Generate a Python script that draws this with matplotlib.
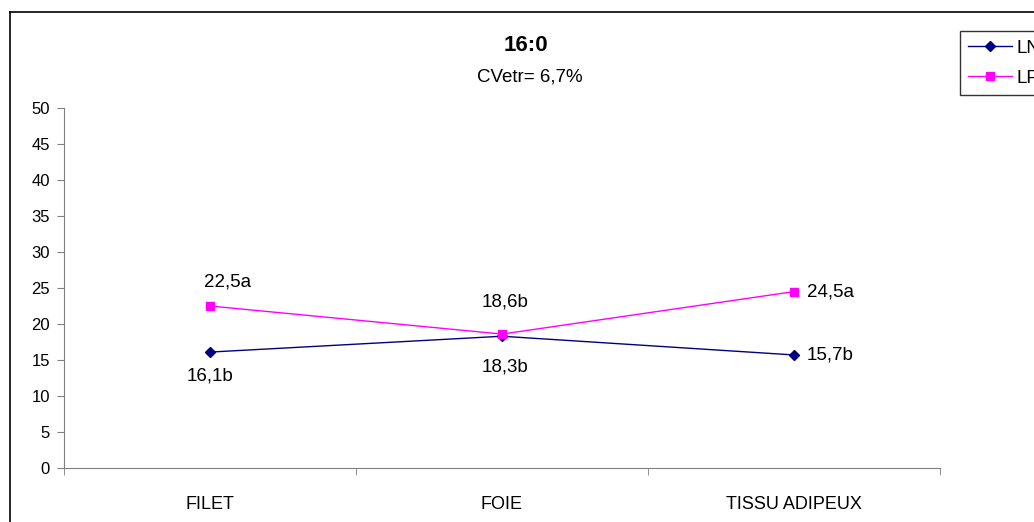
import matplotlib
matplotlib.use('Agg')
import matplotlib.pyplot as plt
from matplotlib.lines import Line2D

plt.rcParams['font.family'] = ['Liberation Sans', 'DejaVu Sans']

# data
categories = ['FILET', 'FOIE', 'TISSU ADIPEUX']
ln_values = [16.1, 18.3, 15.7]
lp_values = [22.5, 18.6, 24.5]
ln_labels = ['16,1b', '18,3b', '15,7b']
lp_labels = ['22,5a', '18,6b', '24,5a']
title = '16:0'
subtitle = 'CVetr= 6,7%'

W, H = 1034, 522
fig = plt.figure(figsize=(W / 100, H / 100), dpi=100)
ax = fig.add_axes([64 / W, 1 - 468 / H, 876 / W, 360 / H])

x = range(len(categories))
ax.plot(x, ln_values, color='#000080', marker='D', markersize=5, lw=1, label='LN')
ax.plot(x, lp_values, color='#ff00ff', marker='s', markersize=6, lw=1, label='LP')

ax.set_xlim(-0.5, len(categories) - 0.5)
ax.set_ylim(0, 50)
ax.set_yticks(range(0, 51, 5))
ax.set_xticks(list(x))
ax.set_xticklabels(categories)
ax.set_xticks([i - 0.5 for i in range(len(categories) + 1)], minor=True)
ax.tick_params(axis='x', which='major', length=0, pad=20, labelsize=13)
ax.tick_params(axis='x', which='minor', length=5, direction='out', color='#808080')
ax.tick_params(axis='y', length=5, direction='out', color='#808080', labelsize=12, pad=5)
for s in ['top', 'right']:
    ax.spines[s].set_visible(False)
ax.spines['left'].set_color('#808080')
ax.spines['bottom'].set_color('#808080')

# data labels
fs = 13.5
ax.annotate(lp_labels[0], (0, lp_values[0]), xytext=(13, 17), textcoords='offset points',
            ha='center', va='center', fontsize=fs)
ax.annotate(ln_labels[0], (0, ln_values[0]), xytext=(0, -17), textcoords='offset points',
            ha='center', va='center', fontsize=fs)
ax.annotate(lp_labels[1], (1, lp_values[1]), xytext=(2, 23), textcoords='offset points',
            ha='center', va='center', fontsize=fs)
ax.annotate(ln_labels[1], (1, ln_values[1]), xytext=(2, -22), textcoords='offset points',
            ha='center', va='center', fontsize=fs)
ax.annotate(lp_labels[2], (2, lp_values[2]), xytext=(9, 0), textcoords='offset points',
            ha='left', va='center', fontsize=fs)
ax.annotate(ln_labels[2], (2, ln_values[2]), xytext=(9, 0), textcoords='offset points',
            ha='left', va='center', fontsize=fs)

fig.text(526 / W, 1 - 45 / H, title, ha='center', va='center', fontsize=16, fontweight='bold')
fig.text(530 / W, 1 - 77 / H, subtitle, ha='center', va='center', fontsize=13.5)

# outer chart border (continues past image edge)
fig.add_artist(Line2D([10 / W, 1.0], [1 - 12 / H, 1 - 12 / H], color='black', lw=1.2,
                      transform=fig.transFigure))
fig.add_artist(Line2D([10 / W, 10 / W], [1 - 12 / H, 0], color='black', lw=1.2,
                      transform=fig.transFigure))

leg = fig.legend(loc='upper left', bbox_to_anchor=(960 / W, 1 - 31 / H), frameon=True,
                 fancybox=False, edgecolor='black', fontsize=13.5, handlelength=2.3,
                 borderpad=0.45, labelspacing=0.7, handletextpad=0.25, borderaxespad=0)
leg.get_frame().set_linewidth(1)

fig.savefig('out.png', dpi=100)
